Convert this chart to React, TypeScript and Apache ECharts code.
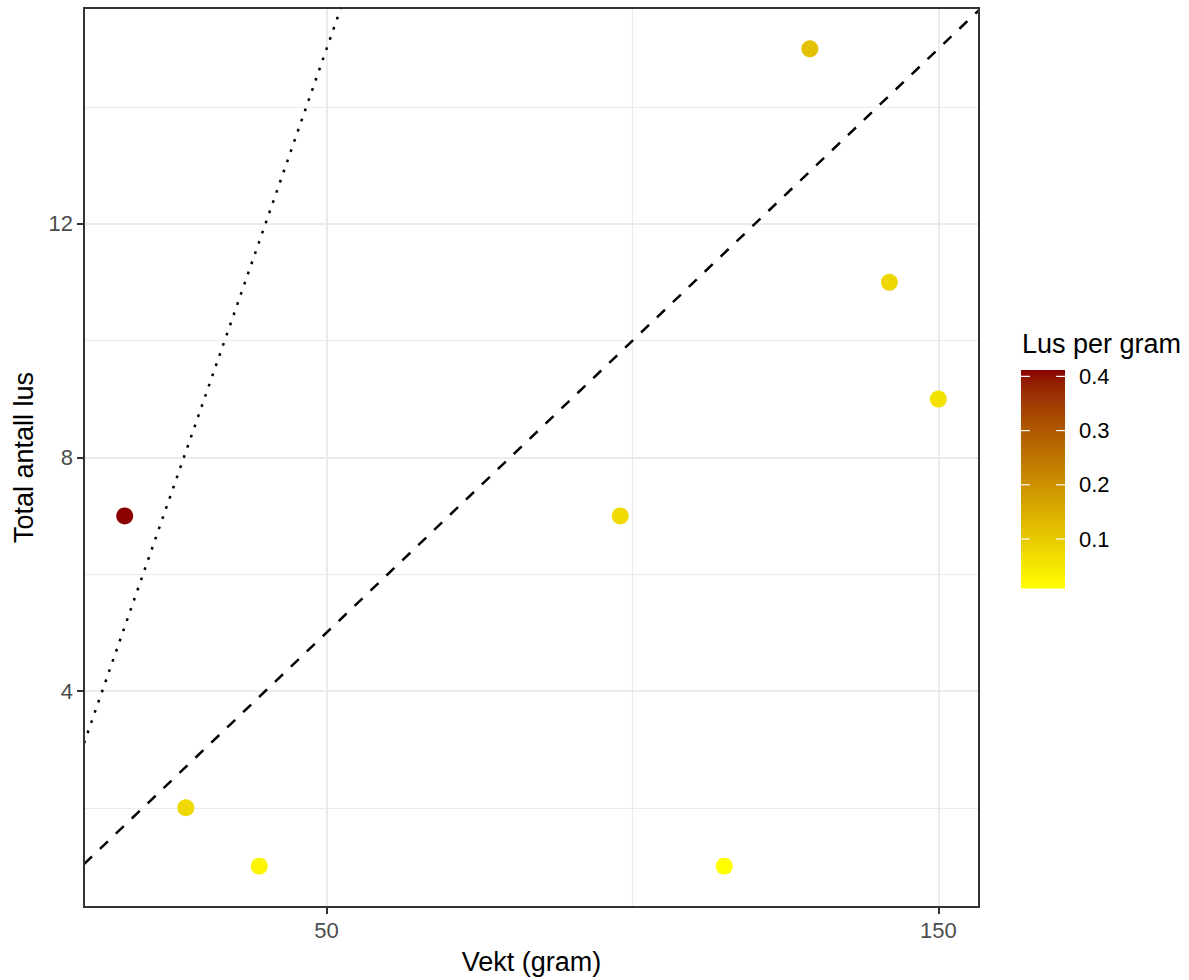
import React, { useEffect, useRef } from "react";
import * as echarts from "echarts";

// ---- data ----
const weights = [17, 27, 39, 98, 115, 129, 142, 150];
const lice = [7, 2, 1, 7, 1, 15, 11, 9];
const xTicks = [50, 150];
const xMinor = [100];
const yTicks = [4, 8, 12];
const yMinor = [2, 6, 10, 14];
const legendTicks = [0.1, 0.2, 0.3, 0.4];
const dashedSlope = 0.1;
const dottedSlope = 0.3;
const lowColor = "#FFFF00";
const highColor = "#8B0000";

const FONT = "Liberation Sans, Arial, sans-serif";

// ---- Lab interpolation (as ggplot's gradient) ----
function hexToRgb(h: string) {
  return [1, 3, 5].map((i) => parseInt(h.slice(i, i + 2), 16));
}
function toLin(c: number) {
  c /= 255;
  return c <= 0.04045 ? c / 12.92 : Math.pow((c + 0.055) / 1.055, 2.4);
}
function fromLin(c: number) {
  const v = c <= 0.0031308 ? 12.92 * c : 1.055 * Math.pow(c, 1 / 2.4) - 0.055;
  return Math.round(Math.min(1, Math.max(0, v)) * 255);
}
const WX = 0.95047, WY = 1.0, WZ = 1.08883;
function fLab(t: number) {
  return t > 0.008856 ? Math.cbrt(t) : 7.787 * t + 16 / 116;
}
function fInv(t: number) {
  const t3 = t * t * t;
  return t3 > 0.008856 ? t3 : (t - 16 / 116) / 7.787;
}
function rgbToLab(rgb: number[]) {
  const [r, g, b] = rgb.map(toLin);
  const X = (r * 0.4124 + g * 0.3576 + b * 0.1805) / WX;
  const Y = (r * 0.2126 + g * 0.7152 + b * 0.0722) / WY;
  const Z = (r * 0.0193 + g * 0.1192 + b * 0.9505) / WZ;
  const fx = fLab(X), fy = fLab(Y), fz = fLab(Z);
  return [116 * fy - 16, 500 * (fx - fy), 200 * (fy - fz)];
}
function labToHex(lab: number[]) {
  const fy = (lab[0] + 16) / 116;
  const fx = fy + lab[1] / 500;
  const fz = fy - lab[2] / 200;
  const X = fInv(fx) * WX, Y = fInv(fy) * WY, Z = fInv(fz) * WZ;
  const r = X * 3.2406 + Y * -1.5372 + Z * -0.4986;
  const g = X * -0.9689 + Y * 1.8758 + Z * 0.0415;
  const b = X * 0.0557 + Y * -0.204 + Z * 1.057;
  return "#" + [r, g, b].map((c) => fromLin(c).toString(16).padStart(2, "0")).join("");
}
const labLo = rgbToLab(hexToRgb(lowColor));
const labHi = rgbToLab(hexToRgb(highColor));
const NSTOPS = 25;
const gradColors: string[] = [];
for (let i = 0; i < NSTOPS; i++) {
  const t = i / (NSTOPS - 1);
  gradColors.push(labToHex(labLo.map((v, k) => v + (labHi[k] - v) * t)));
}

export default function App() {
  const ref = useRef<HTMLDivElement>(null);
  useEffect(() => {
    if (!ref.current) return;
    const chart = echarts.init(ref.current, undefined, { renderer: "svg" });

    const ratios = weights.map((w, i) => lice[i] / w);
    const rMin = Math.min(...ratios);
    const rMax = Math.max(...ratios);
    const wMin = Math.min(...weights), wMax = Math.max(...weights);
    const lMin = Math.min(...lice), lMax = Math.max(...lice);
    const xLo = wMin - 0.05 * (wMax - wMin);
    const xHi = wMax + 0.05 * (wMax - wMin);
    const yLo = lMin - 0.05 * (lMax - lMin);
    const yHi = lMax + 0.05 * (lMax - lMin);

    // legend colourbar geometry
    const barX = 1021, barW = 44, barTop = 370, barBottom = 588.5;
    const valToY = (v: number) =>
      barBottom - ((v - rMin) / (rMax - rMin)) * (barBottom - barTop);

    const legendEls: any[] = [
      {
        type: "text",
        left: 1022,
        top: 330,
        style: { text: "Lus per gram", fontSize: 27, fontFamily: FONT, fill: "#000" },
      },
      {
        type: "rect",
        shape: { x: barX, y: barTop, width: barW, height: barBottom - barTop },
        style: {
          fill: {
            type: "linear", x: 0, y: 0, x2: 0, y2: 1,
            colorStops: gradColors
              .slice()
              .reverse()
              .map((c, i) => ({ offset: i / (NSTOPS - 1), color: c })),
          },
        },
      },
    ];
    legendTicks.forEach((v) => {
      const y = valToY(v);
      legendEls.push(
        { type: "line", shape: { x1: barX, y1: y, x2: barX + 8.8, y2: y }, style: { stroke: "#fff", lineWidth: 1.2 } },
        { type: "line", shape: { x1: barX + barW - 8.8, y1: y, x2: barX + barW, y2: y }, style: { stroke: "#fff", lineWidth: 1.2 } },
        {
          type: "text",
          x: 1079,
          y: y,
          style: {
            text: v.toFixed(1), fontSize: 22, fontFamily: FONT, fill: "#000",
            align: "left", verticalAlign: "middle", textAlign: "left", textVerticalAlign: "middle",
          },
        }
      );
    });

    const gridMarks: any[] = [];
    xTicks.forEach((v) => gridMarks.push({ xAxis: v, lineStyle: { width: 2 } }));
    xMinor.forEach((v) => gridMarks.push({ xAxis: v, lineStyle: { width: 1.2 } }));
    yTicks.forEach((v) => gridMarks.push({ yAxis: v, lineStyle: { width: 2 } }));
    yMinor.forEach((v) => gridMarks.push({ yAxis: v, lineStyle: { width: 1.2 } }));

    chart.setOption({
      animation: false,
      backgroundColor: "#fff",
      textStyle: { fontFamily: FONT },
      grid: {
        left: 84, top: 8, width: 895, height: 900,
        show: true, borderColor: "#333333", borderWidth: 2, backgroundColor: "transparent",
        z: 10,
      },
      xAxis: {
        type: "value", min: xLo, max: xHi,
        name: "Vekt (gram)", nameLocation: "middle", nameGap: 41,
        nameTextStyle: { fontSize: 27, color: "#000", fontFamily: FONT },
        axisLine: { show: false },
        axisTick: { show: true, length: 7, lineStyle: { color: "#333333", width: 2 }, customValues: xTicks },
        axisLabel: { customValues: xTicks, fontSize: 22, color: "#4D4D4D", margin: 12, fontFamily: FONT },
        splitLine: { show: false },
      },
      yAxis: {
        type: "value", min: yLo, max: yHi,
        name: "Total antall lus", nameLocation: "middle", nameGap: 44,
        nameTextStyle: { fontSize: 27, color: "#000", fontFamily: FONT },
        axisLine: { show: false },
        axisTick: { show: true, length: 7, lineStyle: { color: "#333333", width: 2 }, customValues: yTicks },
        axisLabel: { customValues: yTicks, fontSize: 22, color: "#4D4D4D", margin: 11, fontFamily: FONT },
        splitLine: { show: false },
      },
      visualMap: {
        show: false, type: "continuous", seriesIndex: 0, dimension: 2,
        min: rMin, max: rMax, inRange: { color: gradColors },
      },
      series: [
        {
          type: "scatter",
          data: weights.map((w, i) => [w, lice[i], lice[i] / w]),
          symbol: "circle", symbolSize: 17, z: 6,
          itemStyle: { opacity: 1 },
          silent: true,
        },
        {
          type: "line",
          data: [[xLo, dashedSlope * xLo], [xHi, dashedSlope * xHi]],
          showSymbol: false, symbol: "none", clip: true, z: 5, silent: true,
          lineStyle: { color: "#000", width: 2.5, type: [11, 11], cap: "butt" },
        },
        {
          type: "line",
          data: [[xLo, dottedSlope * xLo], [xHi, dottedSlope * xHi]],
          showSymbol: false, symbol: "none", clip: true, z: 5, silent: true,
          lineStyle: { color: "#000", width: 2.5, type: [2.7, 8.1], cap: "butt" },
        },
        {
          type: "line",
          data: [],
          z: 1,
          silent: true,
          markLine: {
            silent: true,
            symbol: ["none", "none"],
            label: { show: false },
            lineStyle: { color: "#EBEBEB", type: "solid", width: 2 },
            emphasis: { disabled: true },
            data: gridMarks,
          },
        },
      ],
      graphic: legendEls,
    });
    return () => chart.dispose();
  }, []);
  return (
    <div
      ref={ref}
      style={{ position: "absolute", left: 0, top: 0, width: 1189, height: 980 }}
    />
  );
}
